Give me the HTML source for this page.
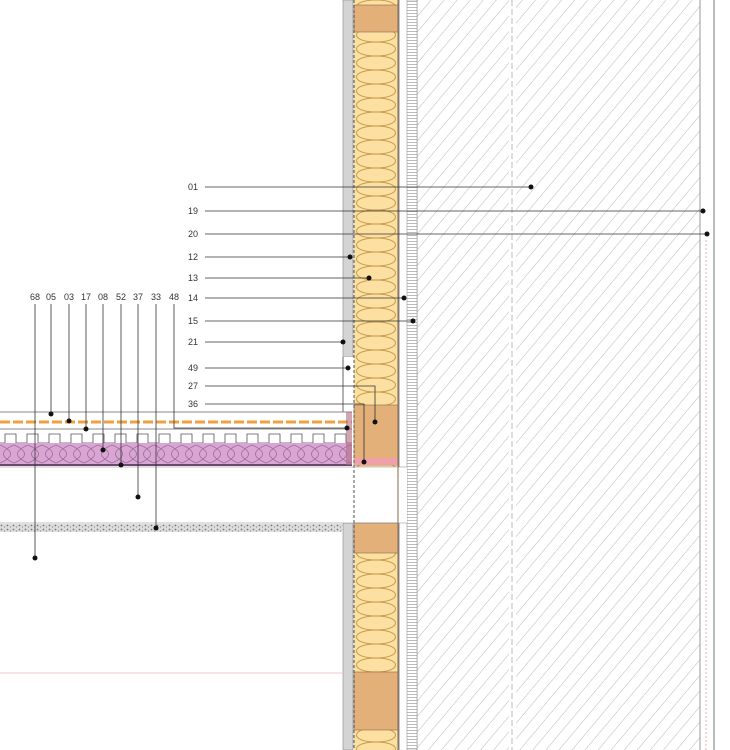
<!DOCTYPE html>
<html><head><meta charset="utf-8"><style>
html,body{margin:0;padding:0;background:#fff;}
svg{display:block;}
text{font-family:"Liberation Sans",sans-serif;font-size:9px;fill:#333;}
</style></head><body>
<svg width="730" height="750" viewBox="0 0 730 750" xmlns="http://www.w3.org/2000/svg">
<defs>
<pattern id="hatch" width="10" height="10" patternUnits="userSpaceOnUse" patternTransform="rotate(40)">
<line x1="0" y1="0" x2="0" y2="10" stroke="#b0b0b0" stroke-width="0.9"/>
</pattern>
<pattern id="stripes" width="8" height="3" patternUnits="userSpaceOnUse">
<rect width="8" height="3" fill="#fff"/><line x1="0" y1="1.5" x2="8" y2="1.5" stroke="#aaa" stroke-width="0.8"/>
</pattern>
<pattern id="ins" x="354" y="0" width="44" height="28" patternUnits="userSpaceOnUse">
<rect width="44" height="28" fill="#fbe0a2"/>
<path d="M22,0 C-4,0 -4,14 22,14 C48,14 48,28 22,28 M22,0 C48,0 48,14 22,14 C-4,14 -4,28 22,28" fill="none" stroke="#c99a4a" stroke-width="1"/>
</pattern>
<pattern id="pink" x="0" y="443" width="14" height="22" patternUnits="userSpaceOnUse">
<rect width="14" height="22" fill="#d9a6d4"/>
<path d="M0,2 C14,8 14,14 0,20 M14,2 C0,8 0,14 14,20" fill="none" stroke="#9a6a98" stroke-width="0.8"/>
</pattern>
<pattern id="gravel" width="6" height="4" patternUnits="userSpaceOnUse">
<rect width="6" height="4" fill="#ddd"/><circle cx="1.5" cy="1.5" r="0.9" fill="#777"/><circle cx="4.5" cy="3" r="0.7" fill="#999"/>
</pattern>
</defs>

<rect x="417" y="0" width="283" height="750" fill="url(#hatch)"/>
<rect x="509" y="0" width="7" height="750" fill="#fff"/>
<line x1="512" y1="0" x2="512" y2="750" stroke="#bbb" stroke-dasharray="6,3"/>
<line x1="417" y1="0" x2="417" y2="750" stroke="#999"/>
<line x1="700" y1="0" x2="700" y2="750" stroke="#999"/>
<line x1="714" y1="0" x2="714" y2="750" stroke="#777"/>
<line x1="706" y1="240" x2="706" y2="750" stroke="#e9b0b0" stroke-dasharray="2,2"/>

<rect x="407" y="0" width="10" height="750" fill="url(#stripes)" stroke="#999" stroke-width="0.6"/>
<line x1="399" y1="0" x2="399" y2="750" stroke="#888"/>

<rect x="343" y="0" width="10" height="357" fill="#d4d4d4" stroke="#888" stroke-width="0.6"/>
<rect x="343" y="523" width="10" height="227" fill="#d4d4d4" stroke="#888" stroke-width="0.6"/>

<rect x="354" y="0" width="44" height="750" fill="url(#ins)"/>
<rect x="354" y="5" width="44" height="27" fill="#e3b07a" stroke="#8a6a4a" stroke-width="0.6"/>
<rect x="354" y="405" width="44" height="60" fill="#e3b07a" stroke="#8a6a4a" stroke-width="0.6"/>
<rect x="354" y="458" width="44" height="7" fill="#f0a0a8"/>
<rect x="354" y="467" width="53" height="56" fill="#fff"/>
<rect x="343" y="357" width="10" height="166" fill="#fff"/>
<line x1="343" y1="357" x2="343" y2="412" stroke="#666"/>
<rect x="354" y="523" width="44" height="30" fill="#e3b07a" stroke="#8a6a4a" stroke-width="0.6"/>
<rect x="354" y="672" width="44" height="58" fill="#e3b07a" stroke="#8a6a4a" stroke-width="0.6"/>
<line x1="354" y1="0" x2="354" y2="750" stroke="#555" stroke-dasharray="3,2"/>
<line x1="398" y1="0" x2="398" y2="750" stroke="#8a6a4a"/>
<line x1="0" y1="467" x2="407" y2="467" stroke="#888" stroke-width="0.6"/>
<line x1="0" y1="523" x2="407" y2="523" stroke="#888" stroke-width="0.6"/>

<line x1="0" y1="412" x2="352" y2="412" stroke="#888"/>
<line x1="0" y1="422" x2="352" y2="422" stroke="#f0a040" stroke-width="3" stroke-dasharray="10,3"/>
<line x1="0" y1="429" x2="352" y2="429" stroke="#888"/>
<g fill="none" stroke="#555" stroke-width="0.8">
<path d="M0,443 L5,443 L5,434 L16,434 L16,443 L27,443 L27,434 L38,434 L38,443 L49,443 L49,434 L60,434 L60,443 L71,443 L71,434 L82,434 L82,443 L93,443 L93,434 L104,434 L104,443 L115,443 L115,434 L126,434 L126,443 L137,443 L137,434 L148,434 L148,443 L159,443 L159,434 L170,434 L170,443 L181,443 L181,434 L192,434 L192,443 L203,443 L203,434 L214,434 L214,443 L225,443 L225,434 L236,434 L236,443 L247,443 L247,434 L258,434 L258,443 L269,443 L269,434 L280,434 L280,443 L291,443 L291,434 L302,434 L302,443 L313,443 L313,434 L324,434 L324,443 L335,443 L335,434 L346,434 L346,443 L352,443"/>
</g>
<rect x="0" y="443" width="352" height="22" fill="url(#pink)"/>
<line x1="0" y1="465" x2="352" y2="465" stroke="#6a4a6a" stroke-width="2"/>
<rect x="346" y="412" width="6" height="53" fill="#b06a80" opacity="0.6"/>
<rect x="0" y="524" width="343" height="8" fill="url(#gravel)"/>
<line x1="0" y1="673" x2="343" y2="673" stroke="#f0c8c8"/>

<g stroke="#333" stroke-width="0.8" fill="none">
<line x1="205" y1="187" x2="531" y2="187"/>
<line x1="205" y1="211" x2="703" y2="211"/>
<line x1="205" y1="234" x2="707" y2="234"/>
<line x1="205" y1="257" x2="350" y2="257"/>
<line x1="205" y1="278" x2="369" y2="278"/>
<line x1="205" y1="298" x2="404" y2="298"/>
<line x1="205" y1="321" x2="413" y2="321"/>
<line x1="205" y1="342" x2="343" y2="342"/>
<line x1="205" y1="368" x2="348" y2="368"/>
<polyline points="205,386 375,386 375,422"/>
<polyline points="205,404 364,404 364,462"/>
<polyline points="174,304 174,428 347,428"/>
<line x1="35" y1="304" x2="35" y2="558"/>
<line x1="51" y1="304" x2="51" y2="414"/>
<line x1="69" y1="304" x2="69" y2="421"/>
<line x1="86" y1="304" x2="86" y2="429"/>
<line x1="103" y1="304" x2="103" y2="450"/>
<line x1="121" y1="304" x2="121" y2="465"/>
<line x1="138" y1="304" x2="138" y2="497"/>
<line x1="156" y1="304" x2="156" y2="528"/>
</g>
<g fill="#111">
<circle cx="531" cy="187" r="2.5"/><circle cx="703" cy="211" r="2.5"/><circle cx="707" cy="234" r="2.5"/>
<circle cx="350" cy="257" r="2.5"/><circle cx="369" cy="278" r="2.5"/><circle cx="404" cy="298" r="2.5"/>
<circle cx="413" cy="321" r="2.5"/><circle cx="343" cy="342" r="2.5"/><circle cx="348" cy="368" r="2.5"/>
<circle cx="375" cy="422" r="2.5"/><circle cx="364" cy="462" r="2.5"/><circle cx="347" cy="428" r="2.5"/>
<circle cx="35" cy="558" r="2.5"/><circle cx="51" cy="414" r="2.5"/><circle cx="69" cy="421" r="2.5"/>
<circle cx="86" cy="429" r="2.5"/><circle cx="103" cy="450" r="2.5"/><circle cx="121" cy="465" r="2.5"/>
<circle cx="138" cy="497" r="2.5"/><circle cx="156" cy="528" r="2.5"/>
</g>
<g>
<text x="188" y="190">01</text><text x="188" y="214">19</text><text x="188" y="237">20</text>
<text x="188" y="260">12</text><text x="188" y="281">13</text><text x="188" y="301">14</text>
<text x="188" y="324">15</text><text x="188" y="345">21</text><text x="188" y="371">49</text>
<text x="188" y="389">27</text><text x="188" y="407">36</text>
<text x="30" y="300">68</text><text x="46" y="300">05</text><text x="64" y="300">03</text>
<text x="81" y="300">17</text><text x="98" y="300">08</text><text x="116" y="300">52</text>
<text x="133" y="300">37</text><text x="151" y="300">33</text><text x="169" y="300">48</text>
</g>
</svg>
</body></html>
